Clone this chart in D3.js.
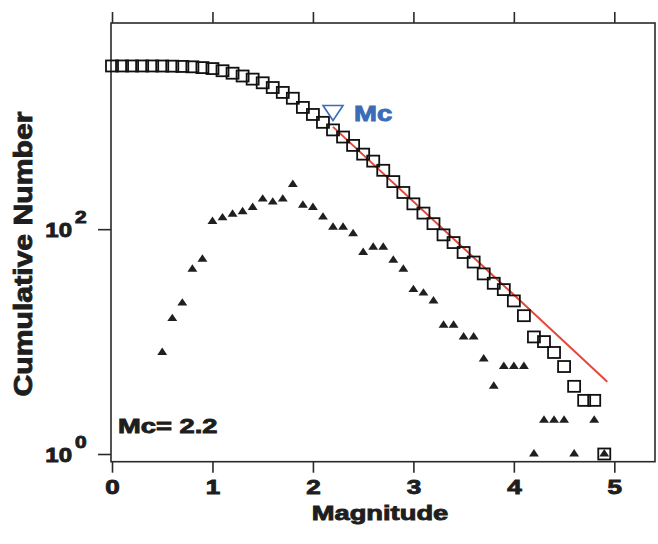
<!DOCTYPE html>
<html>
<head>
<meta charset="utf-8">
<script src="https://cdn.jsdelivr.net/npm/d3@7"></script>
<style>
  body { margin: 0; background: #fff; }
  text { font-family: "Liberation Sans", Arial, sans-serif; font-weight: bold; fill: #1e1e1e; stroke: #1e1e1e; stroke-width: 0.9; }
</style>
</head>
<body>
<div id="chart"></div>
<script>
// magnitude bins
var magnitudes = [0.0, 0.1, 0.2, 0.3, 0.4, 0.5, 0.6, 0.7, 0.8, 0.9,
  1.0, 1.1, 1.2, 1.3, 1.4, 1.5, 1.6, 1.7, 1.8, 1.9,
  2.0, 2.1, 2.2, 2.3, 2.4, 2.5, 2.6, 2.7, 2.8, 2.9,
  3.0, 3.1, 3.2, 3.3, 3.4, 3.5, 3.6, 3.7, 3.8, 3.9,
  4.0, 4.1, 4.2, 4.3, 4.4, 4.5, 4.6, 4.7, 4.8, 4.9];
// cumulative number (open squares)
var cumulative = [2830, 2830, 2830, 2830, 2830, 2827, 2819, 2803, 2781, 2737,
  2683, 2566, 2440, 2304, 2161, 2005, 1820, 1646, 1461, 1211,
  1048, 892, 764, 660, 556, 465, 403, 334, 265, 212,
  168, 139, 112, 89, 76, 62, 51, 40, 33, 29,
  23, 17, 11, 10, 8, 6, 4, 3, 3, 1];
// events per bin (filled triangles), 0 = no marker
var perBin = [0, 0, 0, 0, 0, 8, 16, 22, 44, 54,
  117, 126, 136, 143, 156, 185, 174, 185, 250, 163,
  156, 128, 104, 104, 91, 62, 69, 69, 53, 44,
  29, 27, 23, 14, 14, 11, 11, 7, 4, 6,
  6, 6, 1, 2, 2, 2, 1, 0, 2, 1];
// Gutenberg-Richter fit, end points
var fitLine = [{m: 2.2, n: 813}, {m: 4.93, n: 4.4}];
var mcValue = 2.2;
var mcMarker = {m: 2.2, n: 1090};
var xTicks = [0, 1, 2, 3, 4, 5];
var yTicks = [1, 100];
var yTickExp = ["0", "2"];

var width = 658, height = 544;
var plotLeft = 111, plotRight = 655, plotTop = 23, plotBottom = 461.7;

var x = d3.scaleLinear().domain([-0.01, 5.405]).range([plotLeft, plotRight]);
var y = d3.scaleLog().domain([Math.pow(10, -0.0685), Math.pow(10, 3.834)]).range([plotBottom, plotTop]);

var svg = d3.select("#chart").append("svg")
  .attr("width", width)
  .attr("height", height);

// stretch text horizontally like the scanned figure
function widen(sel, k) {
  sel.each(function () {
    var w = this.getComputedTextLength();
    d3.select(this).attr("textLength", w * k).attr("lengthAdjust", "spacingAndGlyphs");
  });
}

var axisColor = "#2a2a2a";

// bottom axis
var gx = svg.append("g")
  .attr("transform", "translate(0," + plotBottom + ")")
  .call(d3.axisBottom(x).tickValues(xTicks).tickSize(11).tickSizeOuter(0).tickFormat(d3.format("d")));
gx.select(".domain").remove();
gx.selectAll("line").attr("stroke", axisColor).attr("stroke-width", 1.6);
gx.selectAll("text")
  .attr("y", 32).attr("dy", 0)
  .attr("font-size", null)
  .attr("font-family", null)
  .style("font-size", "20px")
  .attr("fill", null)
  .call(widen, 1.3);

// top axis
var gt = svg.append("g")
  .attr("transform", "translate(0," + plotTop + ")")
  .call(d3.axisTop(x).tickValues(xTicks).tickSize(11).tickSizeOuter(0).tickFormat(""));
gt.select(".domain").remove();
gt.selectAll("line").attr("stroke", axisColor).attr("stroke-width", 1.6);

// left axis
var gy = svg.append("g")
  .attr("transform", "translate(" + plotLeft + ",0)")
  .call(d3.axisLeft(y).tickValues(yTicks).tickSize(13).tickSizeOuter(0).tickFormat(""));
gy.select(".domain").remove();
gy.selectAll("line").attr("stroke", axisColor).attr("stroke-width", 1.6);

yTicks.forEach(function (v, i) {
  var ty = y(v);
  svg.append("text")
    .attr("x", 72).attr("y", ty + 8)
    .attr("text-anchor", "end")
    .style("font-size", "20px")
    .text("10")
    .call(widen, 1.2);
  svg.append("text")
    .attr("x", 75).attr("y", ty - 6)
    .style("font-size", "16px")
    .text(yTickExp[i])
    .call(widen, 1.3);
});

// frame
svg.append("rect")
  .attr("x", plotLeft).attr("y", plotTop)
  .attr("width", plotRight - plotLeft).attr("height", plotBottom - plotTop)
  .attr("fill", "none")
  .attr("stroke", axisColor)
  .attr("stroke-width", 1.6);

// fit line
svg.append("path")
  .datum(fitLine)
  .attr("d", d3.line().x(function (d) { return x(d.m); }).y(function (d) { return y(d.n); }))
  .attr("fill", "none")
  .attr("stroke", "#e4473b")
  .attr("stroke-width", 2);

// cumulative squares
svg.append("g").selectAll("rect")
  .data(magnitudes.map(function (m, i) { return {m: m, n: cumulative[i]}; }))
  .enter().append("rect")
  .attr("x", function (d) { return x(d.m) - 6; })
  .attr("y", function (d) { return y(d.n) - 5.5; })
  .attr("width", 12)
  .attr("height", 11)
  .attr("fill", "none")
  .attr("stroke", "#111")
  .attr("stroke-width", 1.8);

// per-bin triangles
var tri = d3.symbol().type(d3.symbolTriangle).size(32);
svg.append("g").selectAll("path")
  .data(magnitudes.map(function (m, i) { return {m: m, n: perBin[i]}; }).filter(function (d) { return d.n > 0; }))
  .enter().append("path")
  .attr("d", tri)
  .attr("transform", function (d) { return "translate(" + x(d.m) + "," + y(d.n) + ") scale(1.15,1)"; })
  .attr("fill", "#1f1f1f");

// Mc marker
var mx = x(mcMarker.m), my = y(mcMarker.n);
svg.append("path")
  .attr("d", "M" + (mx - 10) + "," + (my - 7) + "L" + (mx + 10) + "," + (my - 7) + "L" + mx + "," + (my + 8) + "Z")
  .attr("fill", "none")
  .attr("stroke", "#3b6cb7")
  .attr("stroke-width", 1.6);
svg.append("text")
  .attr("x", mx + 21).attr("y", my + 8)
  .style("font-size", "22px")
  .style("fill", "#3b6cb7")
  .style("stroke", "#3b6cb7")
  .text("Mc")
  .call(widen, 1.25);

svg.append("text")
  .attr("x", 118).attr("y", 433)
  .style("font-size", "21px")
  .text("Mc= " + mcValue.toFixed(1))
  .call(widen, 1.3);

// axis titles
svg.append("text")
  .attr("x", 380).attr("y", 520)
  .attr("text-anchor", "middle")
  .style("font-size", "21px")
  .text("Magnitude")
  .call(widen, 1.3);

svg.append("text")
  .attr("transform", "translate(31.5,254) rotate(-90)")
  .attr("text-anchor", "middle")
  .style("font-size", "26px")
  .attr("textLength", 285)
  .attr("lengthAdjust", "spacingAndGlyphs")
  .text("Cumulative Number");
</script>
</body>
</html>
